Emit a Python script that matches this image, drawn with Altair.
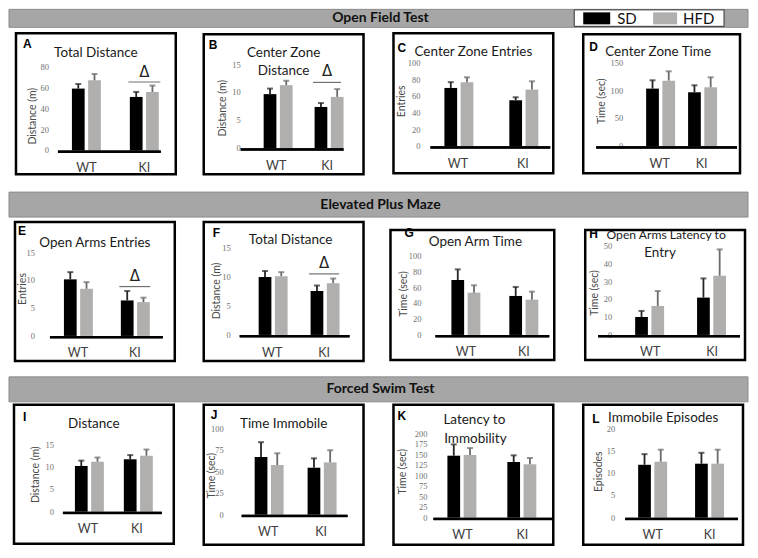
import altair as alt
import pandas as pd

genotypes = ["WT", "KI"]
diets = ["SD", "HFD"]
bar_colors = ["#000000", "#b1aeae"]
err_colors = ["#262626", "#6b6b6b"]

# values ordered WT-SD, WT-HFD, KI-SD, KI-HFD
A_mean = [59.3, 67.2, 51.3, 56.1];    A_err = [4.4, 6.1, 4.8, 6.1]
B_mean = [9.7, 11.3, 7.4, 9.2];       B_err = [1.0, 0.8, 0.7, 1.4]
C_mean = [70.0, 76.8, 55.2, 68.0];    C_err = [7.0, 6.0, 3.6, 10.0]
D_mean = [103.8, 118.2, 97.2, 106.2]; D_err = [15.0, 16.8, 12.6, 18.0]
E_mean = [10.2, 8.5, 6.4, 6.1];       E_err = [1.3, 1.2, 1.7, 0.8]
F_mean = [9.96, 10.1, 7.56, 8.9];     F_err = [1.04, 0.7, 0.94, 0.8]
G_mean = [69.6, 53.6, 49.4, 44.7];    G_err = [13.5, 9.3, 11.4, 10.2]
H_mean = [10.1, 16.3, 21.0, 33.3];    H_err = [3.4, 8.4, 10.8, 14.8]
I_mean = [10.3, 11.25, 11.8, 12.6];   I_err = [1.2, 0.95, 0.95, 1.4]
J_mean = [67.2, 57.8, 54.7, 60.9];    J_err = [17.2, 13.7, 10.9, 14.1]
K_mean = [147.8, 149.4, 132.8, 127.3]; K_err = [26.9, 16.6, 15.8, 15.0]
L_mean = [11.9, 12.6, 12.15, 12.15];  L_err = [2.4, 2.7, 2.45, 3.15]

MEANS = dict(A=A_mean, B=B_mean, C=C_mean, D=D_mean, E=E_mean, F=F_mean,
             G=G_mean, H=H_mean, I=I_mean, J=J_mean, K=K_mean, L=L_mean)
ERRS = dict(A=A_err, B=B_err, C=C_err, D=D_err, E=E_err, F=F_err,
            G=G_err, H=H_err, I=I_err, J=J_err, K=K_err, L=L_err)

TITLES = dict(A=["Total Distance"], B=["Center Zone", "Distance"], C=["Center Zone Entries"],
              D=["Center Zone Time"], E=["Open Arms Entries"], F=["Total Distance"],
              G=["Open Arm Time"], H=["Open Arms Latency to", "Entry"], I=["Distance"],
              J=["Time Immobile"], K=["Latency to", "Immobility"], L=["Immobile Episodes"])
YTITLES = dict(A="Distance (m)", B="Distance (m)", C="Entries", D="Time (sec)", E="Entries",
               F="Distance (m)", G="Time (sec)", H="Time (sec)", I="Distance (m)",
               J="Time (sec)", K="Time (sec)", L="Episodes")
YTICKS = dict(A=[0, 20, 40, 60, 80], B=[0, 5, 10, 15], C=[0, 20, 40, 60, 80, 100],
              D=[0, 50, 100, 150], E=[0, 5, 10, 15], F=[0, 5, 10, 15],
              G=[0, 20, 40, 60, 80, 100], H=[0, 10, 20, 30, 40, 50], I=[0, 5, 10, 15],
              J=[0, 25, 50, 75, 100], K=[0, 25, 50, 75, 100, 125, 150, 175, 200],
              L=[0, 5, 10, 15, 20])
# significance marker (line value, delta value) above KI
DELTA = dict(A=(65.6, 75.0), B=(11.8, 13.8), E=(8.9, 10.8), F=(10.5, 12.3))

# ---- layout (page pixel coordinates) ----
LAYOUT = dict(
    A=dict(box=(15, 32, 175, 173), y0=149.3, ytop=65.7, line=(57, 160), wt=(71, 100), ki=(129, 158),
           ylab=48, ytit=(32, 115), xlab=167, tpos=[(95, 52)], letter=(22, 43)),
    B=dict(box=(203, 33, 363, 173), y0=147, ytop=63.3, line=(240, 343), wt=(263, 288), ki=(314, 339),
           ylab=240, ytit=(222, 107), xlab=165, tpos=[(283, 52), (283, 70)], letter=(208, 44)),
    C=dict(box=(393, 32, 553, 172), y0=145, ytop=61.7, line=(430, 550), wt=(444, 471), ki=(509, 536),
           ylab=420, ytit=(402, 100), xlab=163, tpos=[(473, 51)], letter=(397, 47)),
    D=dict(box=(583, 33, 740, 172), y0=145, ytop=61.7, line=(596, 737), wt=(646, 673), ki=(688, 716),
           ylab=623, ytit=(602, 100), xlab=163, tpos=[(658, 51)], letter=(589, 46)),
    E=dict(box=(14, 221, 174, 360), y0=335, ytop=251.7, line=(49, 162), wt=(63, 91), ki=(120, 148),
           ylab=34, ytit=(22, 288), xlab=352, tpos=[(94, 242)], letter=(17, 230)),
    F=dict(box=(203, 221, 363, 360), y0=334, ytop=246.7, line=(239, 349), wt=(258, 285), ki=(310, 338),
           ylab=230, ytit=(216, 290), xlab=352, tpos=[(290, 239)], letter=(212, 232)),
    G=dict(box=(388, 229, 552, 359), y0=334, ytop=255, line=(433, 547), wt=(449, 478), ki=(507, 537),
           ylab=419, ytit=(402, 293), xlab=351, tpos=[(473, 241)], letter=(402, 232)),
    H=dict(box=(583, 229, 743, 359), y0=334, ytop=245, line=(596, 738), wt=(633, 663), ki=(695, 723),
           ylab=610, ytit=(593, 292), xlab=351, tpos=[(664, 234), (658, 252)], letter=(587, 233),
           tsize=12.2),
    I=dict(box=(13, 403, 173, 542), y0=510, ytop=443.3, line=(62, 161), wt=(74, 100), ki=(123, 149),
           ylab=53, ytit=(35, 473), xlab=527, tpos=[(93, 422)], letter=(22, 415)),
    J=dict(box=(203, 403, 363, 543), y0=513, ytop=427, line=(241, 347), wt=(254, 281), ki=(307, 334),
           ylab=223, ytit=(211, 474), xlab=530, tpos=[(283, 422)], letter=(210, 413)),
    K=dict(box=(393, 403, 553, 543), y0=516, ytop=432, line=(433, 552), wt=(447, 477), ki=(507, 537),
           ylab=427, ytit=(403, 470), xlab=533, tpos=[(474, 418), (475, 437)], letter=(397, 414)),
    L=dict(box=(583, 403, 743, 543), y0=516, ytop=427, line=(625, 738), wt=(638, 667), ki=(695, 724),
           ylab=615, ytit=(599, 470), xlab=533, tpos=[(663, 416)], letter=(592, 417)),
)

ROWS = [["A", "B", "C", "D"], ["E", "F", "G", "H"], ["I", "J", "K", "L"]]
ROW_TOPS = [30, 219, 402]
ROW_H = [150, 150, 148]
VIEW_LEFT = [8, 198, 388, 578]
VIEW_W = [190, 190, 190, 170]

BANNERS = [("Open Field Test", 8, 22, (0, 18)),
           ("Elevated Plus Maze", 180, 39, (11, 36)),
           ("Forced Swim Test", 369, 33, (7, 32))]
TOTAL_W = 740

SANS = "Lato"
one = pd.DataFrame({"k": [0]})


def txt(text, x, y, size, font=SANS, weight="normal", color="#1a1a1a", align="center", angle=0):
    return alt.Chart(one).mark_text(text=text, font=font, fontSize=size, fontWeight=weight,
                                    color=color, align=align, baseline="middle",
                                    angle=angle).encode(x=alt.value(x), y=alt.value(y))


def panel(key, vl, bt, vw, bh):
    lay = LAYOUT[key]
    m, e = MEANS[key], ERRS[key]
    rows = []
    i = 0
    for g in genotypes:
        for d in diets:
            rows.append({"genotype": g, "diet": d, "mean": m[i], "top": m[i] + e[i]})
            i += 1
    df = pd.DataFrame(rows)

    L, R = lay["line"][0] - vl, lay["line"][1] - vl
    w1, w2 = lay["wt"]
    k1, _ = lay["ki"]
    step = k1 - w1
    bw = w2 - w1
    pin = 1 - bw / step
    W = R - L
    pout = (W / step - 2 + pin) / 2
    outer = W - (step + bw)
    al = min(1, max(0, (w1 - lay["line"][0]) / outer)) if outer > 0 else 0.5
    gap = 3.5
    sub = (bw - gap) / 2
    pin2 = gap / (sub + gap)

    y0 = lay["y0"] - bt
    yt = lay["ytop"] - bt
    ticks = YTICKS[key]
    xsc = alt.Scale(domain=genotypes, range=[L, R], paddingInner=pin, paddingOuter=pout, align=al)
    ysc = alt.Scale(domain=[0, ticks[-1]], range=[y0, yt], nice=False, zero=True)
    offs = alt.XOffset("diet:N", scale=alt.Scale(domain=diets, paddingInner=pin2, paddingOuter=0))

    base = alt.Chart(df)
    bars = base.mark_bar().encode(
        x=alt.X("genotype:N", scale=xsc, axis=None),
        xOffset=offs,
        y=alt.Y("mean:Q", scale=ysc, axis=None),
        fill=alt.Fill("diet:N", scale=alt.Scale(domain=diets, range=bar_colors), legend=None),
    )
    ecol = alt.Color("diet:N", scale=alt.Scale(domain=diets, range=err_colors), legend=None)
    rules = base.mark_rule(strokeWidth=1.8).encode(
        x=alt.X("genotype:N", axis=None), xOffset="diet:N",
        y=alt.Y("mean:Q", axis=None), y2="top:Q", color=ecol)
    caps = base.mark_tick(orient="horizontal", size=6, thickness=2).encode(
        x=alt.X("genotype:N", axis=None), xOffset="diet:N",
        y=alt.Y("top:Q", axis=None), color=ecol)

    # panel frame and x axis line (pixel geometry, unscaled)
    bl, btp, br, bb = lay["box"]
    frame = pd.DataFrame({
        "x1": [bl - vl, L], "x2": [br - vl, R],
        "y1": [btp - bt, y0], "y2": [bb - bt, y0 + 2.5],
        "sw": [2.5, 0.0], "fo": [0.0, 1.0],
    })
    frame_layer = alt.Chart(frame).mark_rect(stroke="#000000", fill="#000000").encode(
        x=alt.X("x1:Q", scale=None, axis=None), x2="x2:Q",
        y=alt.Y("y1:Q", scale=None, axis=None), y2="y2:Q",
        strokeWidth=alt.StrokeWidth("sw:Q", scale=None, legend=None),
        fillOpacity=alt.FillOpacity("fo:Q", scale=None, legend=None))
    path = pd.DataFrame({"px": [L, R], "py": [y0 + 1.2, y0 + 1.2]})
    axis_path = alt.Chart(path).mark_line(color="#000000", strokeWidth=2.4).encode(
        x=alt.X("px:Q", scale=None, axis=None), y=alt.Y("py:Q", scale=None, axis=None))

    # axis labels drawn from the scales
    tdf = pd.DataFrame({"v": ticks})
    ylabels = alt.Chart(tdf).mark_text(align="right", baseline="middle", font="Liberation Serif",
                                       fontSize=8.5, color="#707070").encode(
        x=alt.value(lay["ylab"] - vl), y=alt.Y("v:Q", axis=None), text=alt.Text("v:Q"))
    gdf = pd.DataFrame({"genotype": genotypes})
    xlabels = alt.Chart(gdf).mark_text(baseline="middle", font=SANS, fontSize=12.5,
                                       color="#404040").encode(
        x=alt.X("genotype:N", axis=None), y=alt.value(lay["xlab"] - bt), text="genotype:N")
    ytitle = txt(YTITLES[key], lay["ytit"][0] - vl, lay["ytit"][1] - bt, 10.5,
                 color="#4a4a4a", angle=270)

    layers = [bars, rules, caps, ylabels, xlabels, ytitle]

    if key in DELTA:
        lv, tv = DELTA[key]
        ddf = pd.DataFrame({"genotype": ["KI"], "lv": [lv], "tv": [tv]})
        dl = alt.Chart(ddf).mark_tick(orient="horizontal", size=bw + 3, thickness=1.2,
                                      color="#333333").encode(
            x=alt.X("genotype:N", axis=None), y=alt.Y("lv:Q", axis=None))
        dt = alt.Chart(ddf).mark_text(text="Δ", font="DejaVu Sans", fontSize=15,
                                      color="#222222", baseline="middle").encode(
            x=alt.X("genotype:N", axis=None), y=alt.Y("tv:Q", axis=None))
        layers += [dl, dt]

    layers += [frame_layer, axis_path]
    tsize = lay.get("tsize", 13.5)
    for li, (line, (cx, cy)) in enumerate(zip(TITLES[key], lay["tpos"])):
        layers.append(txt(line, cx - vl, cy - bt, tsize if li == 0 else 13.5))
    lx, ly = lay["letter"]
    layers.append(txt(key, lx - vl, ly - bt, 12, font="Liberation Sans", weight="bold",
                      color="#000000", align="left"))
    return alt.layer(*layers).properties(width=vw, height=bh)


def banner(title, top, h, rect, legend=False):
    y1, y2 = rect
    layers = [
        alt.Chart(one).mark_rect(fill="#a6a6a6", stroke="#8c8c8c", strokeWidth=1).encode(
            x=alt.value(0), x2=alt.value(TOTAL_W), y=alt.value(y1), y2=alt.value(y2)),
        txt(title, 372, (y1 + y2) / 2, 14, weight="bold", color="#111111"),
    ]
    if legend:
        layers.append(alt.Chart(one).mark_rect(fill="#ffffff", stroke="#333333", strokeWidth=1).encode(
            x=alt.value(566), x2=alt.value(716), y=alt.value(0.5), y2=alt.value(17)))
        sw = [(575, 602), (645, 669)]
        tx = [609, 675]
        for d, c, (s1, s2), t in zip(diets, bar_colors, sw, tx):
            layers.append(alt.Chart(one).mark_rect(fill=c).encode(
                x=alt.value(s1), x2=alt.value(s2), y=alt.value(3), y2=alt.value(15)))
            layers.append(txt(d, t, 9.5, 15, color="#111111", align="left"))
    return alt.layer(*layers).properties(width=TOTAL_W, height=h)


blocks = []
for bi, (title, top, h, rect) in enumerate(BANNERS):
    blocks.append(banner(title, top, h, rect, legend=(bi == 0)))
    panels = [panel(k, VIEW_LEFT[j], ROW_TOPS[bi], VIEW_W[j], ROW_H[bi])
              for j, k in enumerate(ROWS[bi])]
    blocks.append(alt.hconcat(*panels, spacing=0))

chart = alt.vconcat(*blocks, spacing=0).properties(
    padding=0, background="#ffffff"
).configure_view(strokeWidth=0).configure_concat(spacing=0)

chart.save("out.html", embed_options={"renderer": "svg", "actions": False})
